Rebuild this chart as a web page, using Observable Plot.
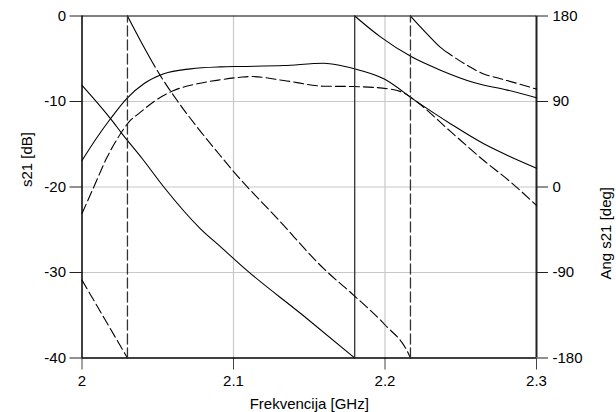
<!DOCTYPE html>
<html>
<head>
<meta charset="utf-8">
<script src="https://cdn.jsdelivr.net/npm/d3@7"></script>
<script src="https://cdn.jsdelivr.net/npm/@observablehq/plot@0.6"></script>
<style>
  body { margin: 0; background: #fff; }
  svg { display: block; }
</style>
</head>
<body>
<div id="chart"></div>
<script>
// ---- axes / tick values ----
const xDomain = [2, 2.3];
const dbDomain = [-40, 0];
const xTicks = [2, 2.1, 2.2, 2.3];
const dbTicks = [-40, -30, -20, -10, 0];
const degTicks = [-180, -90, 0, 90, 180];

// ---- s21 magnitude [dB], solid ----
const magSolidF  = [2.0, 2.01, 2.0188, 2.0298, 2.0408, 2.054, 2.0716, 2.0914, 2.1046, 2.1332, 2.1596, 2.1706, 2.1838, 2.1992, 2.22, 2.2432, 2.2652, 2.282, 2.3];
const magSolidDb = [-16.9, -14.18, -12.02, -9.6, -7.93, -6.76, -6.18, -5.95, -5.9, -5.79, -5.52, -5.79, -6.37, -7.35, -9.9, -12.6, -14.95, -16.4, -17.8];

// ---- s21 magnitude [dB], dashed ----
const magDashF  = [2.0, 2.0078, 2.0166, 2.0254, 2.0309, 2.0386, 2.0485, 2.0606, 2.076, 2.0914, 2.1046, 2.1112, 2.1332, 2.1596, 2.1794, 2.2036, 2.2125, 2.22, 2.2432, 2.2652, 2.2828, 2.3];
const magDashDb = [-23.1, -20.0, -16.5, -13.78, -12.42, -11.25, -9.88, -8.71, -7.93, -7.46, -7.16, -7.08, -7.54, -8.21, -8.25, -8.55, -9.0, -9.9, -13.5, -16.9, -19.4, -22.16];

// ---- s21 phase [deg], solid (wrapped branches) ----
const phSolidAF   = [2.0, 2.0188, 2.0265, 2.0397, 2.054, 2.0782, 2.0915, 2.109, 2.145, 2.18];
const phSolidADeg = [107, 72, 56, 30, 0, -44, -63, -88, -134, -180];
const phSolidBF   = [2.18, 2.197, 2.2175, 2.2366, 2.2586, 2.2807, 2.3];
const phSolidBDeg = [180, 158, 137, 123, 110, 102, 94];

// ---- s21 phase [deg], dashed (wrapped branches) ----
const phDashAF   = [2.0, 2.015, 2.03];
const phDashADeg = [-98, -139, -180];
const phDashBF   = [2.03, 2.0386, 2.0518, 2.0628, 2.076, 2.0903, 2.1002, 2.13, 2.1596, 2.1794, 2.1999, 2.2147, 2.2168];
const phDashBDeg = [180, 154, 117, 91, 63, 35, 16, -35, -86, -114, -145, -173, -180];
const phDashCF   = [2.2168, 2.2279, 2.2366, 2.2454, 2.2543, 2.2652, 2.2762, 2.2873, 2.3];
const phDashCDeg = [180, 161, 147, 137, 128, 119, 114, 109, 103];

// phase axis (-180..180 deg) shares the frame with the dB axis (-40..0 dB)
const degToDb = d => -40 + (d + 180) / 9;
const dbToDeg = v => Math.round((v + 40) * 9 - 180);

const rows = (fs, vs, id, conv = v => v) => fs.map((f, i) => ({ f, y: conv(vs[i]), id }));

const magSolid = rows(magSolidF, magSolidDb, "ms");
const magDash = rows(magDashF, magDashDb, "md");
const phSolidBranches = [rows(phSolidAF, phSolidADeg, "psA", degToDb), rows(phSolidBF, phSolidBDeg, "psB", degToDb)];
const phDashBranches = [rows(phDashAF, phDashADeg, "pdA", degToDb), rows(phDashBF, phDashBDeg, "pdB", degToDb), rows(phDashCF, phDashCDeg, "pdC", degToDb)];
const jumps = branches => branches.slice(1).flatMap((b, i) => {
  const prev = branches[i];
  const id = "jump" + b[0].id;
  return [{ ...prev[prev.length - 1], id }, { ...b[0], id }];
});

const font = "Liberation Sans, Arial, Helvetica, sans-serif";
const fs = 15;
const dash = "10,4";
// dashed phase branches that start at the top begin with a long dash
const longDash = [58, 4, ...Array(60).fill([10, 4]).flat()].join(",");

const chart = Plot.plot({
  width: 616,
  height: 412,
  marginLeft: 81.5,
  marginRight: 80,
  marginTop: 15.5,
  marginBottom: 54.5,
  x: { domain: xDomain },
  y: { domain: dbDomain },
  style: { fontFamily: font, fontSize: fs + "px", color: "black", background: "white" },
  marks: [
    Plot.gridX(xTicks.slice(1, -1), { stroke: "#c8c8c8", strokeOpacity: 1, strokeWidth: 1.2 }),
    Plot.gridY(dbTicks.slice(1, -1), { stroke: "#c8c8c8", strokeOpacity: 1, strokeWidth: 1.2 }),
    Plot.axisX(xTicks, { anchor: "bottom", tickSize: 12, tickPadding: 5, tickFormat: d => String(d), label: null, fontSize: fs, stroke: "#444" }),
    Plot.axisY(dbTicks, { anchor: "left", tickSize: 12, tickPadding: 4, tickFormat: d => String(d), label: null, fontSize: fs, stroke: "#222" }),
    Plot.axisY(degTicks.map(degToDb), { anchor: "right", tickSize: 11, tickPadding: 5, tickFormat: d => String(dbToDeg(d)), label: null, fontSize: fs, stroke: "#222" }),
    Plot.ruleX([xDomain[0]], { stroke: "black", strokeWidth: 1.5 }),
    Plot.ruleX([xDomain[1]], { stroke: "#222", strokeWidth: 2 }),
    Plot.ruleY([dbDomain[0]], { stroke: "black", strokeWidth: 1.5 }),
    Plot.ruleY([dbDomain[1]], { stroke: "black", strokeWidth: 1.2 }),
    // magnitude
    Plot.line(magSolid, { x: "f", y: "y", stroke: "black", strokeWidth: 1.1, curve: "monotone-x" }),
    Plot.line(magDash, { x: "f", y: "y", stroke: "black", strokeWidth: 1.1, strokeDasharray: dash, curve: "monotone-x" }),
    // phase, solid
    Plot.line(phSolidBranches.flat(), { x: "f", y: "y", z: "id", stroke: "black", strokeWidth: 1.1, curve: "monotone-x" }),
    Plot.line(jumps(phSolidBranches), { x: "f", y: "y", z: "id", stroke: "#333", strokeWidth: 1.3 }),
    // phase, dashed
    Plot.line(phDashBranches[0], { x: "f", y: "y", stroke: "black", strokeWidth: 1.1, strokeDasharray: dash, curve: "monotone-x" }),
    Plot.line(phDashBranches.slice(1).flat(), { x: "f", y: "y", z: "id", stroke: "black", strokeWidth: 1.1, strokeDasharray: longDash, curve: "monotone-x" }),
    Plot.line(jumps(phDashBranches), { x: "f", y: "y", z: "id", stroke: "#333", strokeWidth: 1.3, strokeDasharray: dash }),
    // axis titles
    Plot.text(["s21 [dB]"], { text: d => d, frameAnchor: "left", dx: -55, rotate: -90, fontSize: fs, fill: "black" }),
    Plot.text(["Ang s21 [deg]"], { text: d => d, frameAnchor: "right", dx: 70, rotate: -90, fontSize: fs, fill: "black" }),
    Plot.text(["Frekvencija [GHz]"], { text: d => d, frameAnchor: "bottom", dy: 51, fontSize: fs, fill: "black" })
  ]
});
document.getElementById("chart").appendChild(chart);
</script>
</body>
</html>
